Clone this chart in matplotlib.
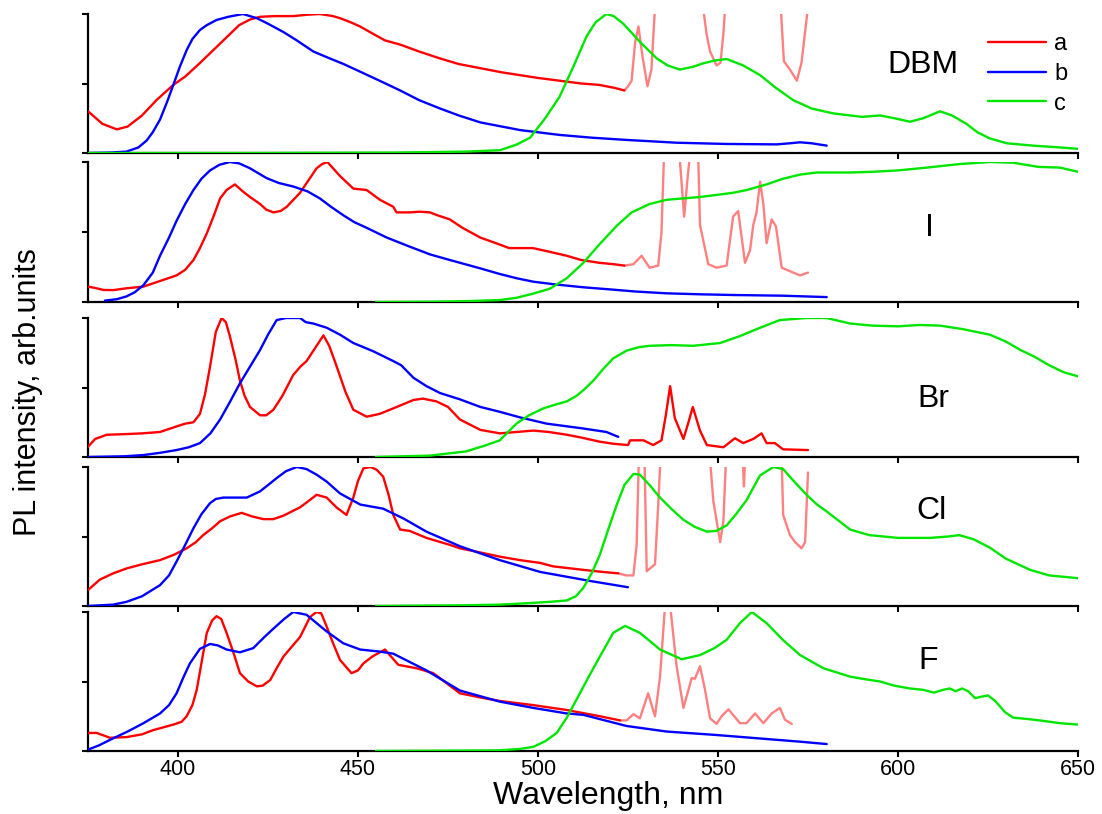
import numpy as np
import matplotlib
matplotlib.use("Agg")
import matplotlib.pyplot as plt

plt.rcParams['font.family'] = ['Liberation Sans', 'DejaVu Sans']

# ---- DBM ----
dbm_a_x = [375, 379, 383, 386, 390, 394, 398.7, 402, 406, 409, 412.6, 417, 420, 422.8, 427, 432, 436, 439.4, 443, 445,
           448, 450.6, 454, 457.5, 461.7, 467, 472.8, 478, 484, 490, 495, 500, 506, 512, 517, 521, 524]
dbm_a_y = [0.30, 0.21, 0.17, 0.19, 0.27, 0.38, 0.49, 0.55, 0.645, 0.72, 0.81, 0.92, 0.96, 0.98, 0.985, 0.985, 0.995, 1.0,
           0.985, 0.97, 0.94, 0.91, 0.86, 0.81, 0.78, 0.73, 0.68, 0.64, 0.61, 0.58, 0.56, 0.54, 0.52, 0.50, 0.49, 0.47, 0.45]
dbm_s_x = [524, 525, 526, 527, 527.9, 529, 530.4, 531.5, 532.5, 535, 540, 546, 546.8, 547.8, 549.6, 550.7, 551.5, 552,
           558, 567.5, 568.3, 570, 571.9, 573.2, 575]
dbm_s_y = [0.45, 0.48, 0.52, 0.80, 0.91, 0.70, 0.48, 0.60, 1.05, 3.0, 3.0, 1.02, 0.86, 0.73, 0.63, 0.65, 0.86, 1.05,
           3.0, 1.02, 0.66, 0.60, 0.52, 0.65, 1.05]
dbm_b_x = [375, 381, 385.7, 389, 391.3, 393, 395, 397, 398.7, 400.5, 402.4, 404, 406.1, 408, 410.7, 414, 418, 421.9, 425,
           429.3, 433, 437.6, 442.2, 446, 450.6, 456, 461.7, 467, 472.8, 478, 484, 490, 495, 506, 515, 524.6, 538.5,
           552.4, 566.3, 570, 572.8, 576, 580.2]
dbm_b_y = [0, 0.003, 0.01, 0.04, 0.09, 0.15, 0.24, 0.37, 0.49, 0.62, 0.74, 0.82, 0.885, 0.92, 0.957, 0.98, 1.0, 0.97,
           0.93, 0.87, 0.81, 0.73, 0.68, 0.64, 0.585, 0.52, 0.45, 0.38, 0.32, 0.27, 0.22, 0.19, 0.165, 0.13, 0.11, 0.094,
           0.074, 0.065, 0.062, 0.07, 0.077, 0.07, 0.053]
dbm_c_x = [375, 420, 460, 480, 489.4, 494, 497.8, 502, 506, 509.8, 513.5, 516, 519, 521, 523.7, 528.3, 533, 536, 539.4,
           543, 545.9, 549, 552.4, 557, 561.7, 566, 570.9, 576, 582, 586.7, 590, 595, 599, 603.3, 607, 611.7, 615, 619,
           622, 625.5, 630.2, 637.5, 645, 650]
dbm_c_y = [0, 0, 0.003, 0.01, 0.02, 0.06, 0.11, 0.25, 0.405, 0.62, 0.84, 0.94, 1.0, 0.985, 0.93, 0.80, 0.68, 0.63,
           0.60, 0.62, 0.645, 0.665, 0.676, 0.63, 0.56, 0.47, 0.38, 0.32, 0.285, 0.27, 0.26, 0.27, 0.25, 0.225, 0.25,
           0.30, 0.27, 0.21, 0.15, 0.105, 0.07, 0.053, 0.04, 0.03]

# ---- I ----
i_a_x = [375, 377, 379.3, 382, 385.7, 390.4, 395, 399.6, 402, 404.3, 406, 408, 410, 411.7, 413.5, 415.8, 418, 420,
         422.8, 424.5, 426.5, 428.5, 430.2, 433.9, 436, 438.5, 440, 441.5, 445, 448.7, 452.4, 456.1, 459.8, 460.7,
         464.4, 467, 470, 472, 475.5, 479, 484, 489.4, 492, 498.6, 503, 508, 512, 517, 521, 524]
i_a_y = [0.11, 0.10, 0.086, 0.085, 0.098, 0.11, 0.15, 0.19, 0.23, 0.30, 0.38, 0.49, 0.62, 0.74, 0.80, 0.84, 0.79,
         0.75, 0.70, 0.66, 0.64, 0.65, 0.68, 0.78, 0.86, 0.955, 0.985, 1.0, 0.90, 0.81, 0.80, 0.73, 0.68, 0.64, 0.64,
         0.645, 0.64, 0.62, 0.59, 0.53, 0.46, 0.41, 0.385, 0.385, 0.36, 0.33, 0.30, 0.28, 0.27, 0.26]
i_s_x = [524, 526.5, 528.8, 531, 533.4, 534.3, 535, 537, 539.3, 540.6, 541.6, 542.2, 543.5, 544.5, 545, 547.3, 549.6,
         552.4, 554.2, 555.6, 557.5, 558.9, 559.8, 560.7, 561.7, 562.6, 563.5, 564.9, 566.1, 567.7, 570, 572.8, 575]
i_s_y = [0.26, 0.27, 0.33, 0.245, 0.26, 0.50, 1.05, 3.0, 1.05, 0.61, 0.90, 1.05, 3.0, 1.05, 0.55, 0.27, 0.245, 0.26,
         0.61, 0.65, 0.28, 0.37, 0.55, 0.64, 0.86, 0.70, 0.42, 0.59, 0.54, 0.245, 0.22, 0.19, 0.21]
i_b_x = [379.7, 383, 385.7, 388, 390.4, 393, 395, 397.5, 399.6, 402, 404.3, 406.5, 408.9, 411.5, 414.4, 417, 420,
         424.6, 428, 432, 436, 439.4, 442.5, 445.9, 449, 452.4, 458, 464.4, 470, 475.5, 484, 489.4, 494, 498.7, 505,
         512.6, 520, 527, 535.7, 545, 554.2, 568, 580.2]
i_b_y = [0.01, 0.02, 0.04, 0.07, 0.12, 0.21, 0.33, 0.46, 0.58, 0.70, 0.80, 0.88, 0.94, 0.98, 1.0, 0.99, 0.955, 0.885,
         0.85, 0.825, 0.79, 0.74, 0.68, 0.62, 0.57, 0.53, 0.46, 0.395, 0.34, 0.30, 0.24, 0.20, 0.17, 0.145, 0.125,
         0.105, 0.09, 0.075, 0.062, 0.055, 0.05, 0.045, 0.035]
i_c_x = [455, 470, 480, 489.4, 494, 498.7, 503.3, 508, 512.6, 517, 521.9, 526, 531, 535.7, 545, 554.2, 558, 563.5,
         568, 572.8, 577.4, 586.7, 593, 600, 608, 617, 625.5, 632, 639, 645, 650]
i_c_y = [0, 0.002, 0.006, 0.014, 0.03, 0.06, 0.095, 0.17, 0.28, 0.41, 0.545, 0.64, 0.70, 0.73, 0.75, 0.78, 0.80, 0.84,
         0.88, 0.91, 0.925, 0.925, 0.93, 0.94, 0.96, 0.985, 1.0, 0.995, 0.965, 0.96, 0.93]

# ---- Br ----
br_a_x = [375, 377, 380.2, 385.7, 390, 395, 399.6, 402, 404.3, 406.1, 407.5, 408.9, 410.5, 412.1, 413.3, 414.4, 416,
          417.2, 418.5, 420, 422.8, 424.5, 426.5, 429, 432, 434, 435.7, 438, 440.4, 442, 444.1, 446.5, 448.7, 452.4,
          456, 459.8, 465.4, 468, 471.8, 475, 478.3, 484, 489.4, 494, 498.7, 503, 508, 512, 517.2, 521, 525, 525.6,
          529.3, 532, 534.3, 535.5, 536.7, 538, 540.4, 541.8, 543, 545, 546.9, 551.5, 554.7, 557, 559.8, 562.1, 563.5,
          565.8, 568.1, 575]
br_a_y = [0.074, 0.13, 0.16, 0.165, 0.17, 0.18, 0.22, 0.24, 0.25, 0.31, 0.45, 0.65, 0.90, 1.0, 0.97, 0.87, 0.70, 0.55,
          0.44, 0.36, 0.30, 0.30, 0.34, 0.44, 0.59, 0.65, 0.69, 0.78, 0.875, 0.80, 0.65, 0.47, 0.34, 0.29, 0.31, 0.35,
          0.41, 0.42, 0.40, 0.36, 0.27, 0.195, 0.17, 0.18, 0.19, 0.18, 0.16, 0.14, 0.11, 0.095, 0.086, 0.12, 0.12,
          0.086, 0.12, 0.30, 0.51, 0.28, 0.13, 0.25, 0.36, 0.19, 0.086, 0.07, 0.135, 0.10, 0.13, 0.17, 0.10, 0.10,
          0.055, 0.05]
br_b_x = [375, 385, 390.4, 395, 399.6, 403, 406.1, 409, 411.7, 414.5, 417.2, 420, 422.8, 425, 427.4, 430, 433.9, 435.5,
          437.6, 441.3, 445, 448.7, 454.3, 459.8, 462, 465.4, 469, 472.8, 478.3, 484, 489.4, 495, 502.4, 512.6, 519,
          522.3]
br_b_y = [0, 0.005, 0.014, 0.03, 0.05, 0.07, 0.10, 0.17, 0.27, 0.40, 0.53, 0.65, 0.77, 0.88, 0.985, 1.0, 1.0, 0.97,
          0.96, 0.93, 0.88, 0.82, 0.76, 0.69, 0.66, 0.57, 0.51, 0.46, 0.415, 0.36, 0.325, 0.285, 0.24, 0.205, 0.18,
          0.145]
br_c_x = [455, 470, 480, 485, 489.4, 494, 497.5, 501.5, 505.2, 508, 510.7, 513, 515.4, 518, 520.9, 524.6, 528, 531,
          537, 543.1, 550.6, 556.1, 561.7, 567.2, 574.6, 580.2, 586.7, 593, 600, 606, 611.7, 618, 625.5, 630, 634, 638,
          642, 646, 650]
br_c_y = [0, 0.01, 0.04, 0.08, 0.12, 0.24, 0.30, 0.35, 0.38, 0.40, 0.44, 0.49, 0.55, 0.63, 0.71, 0.765, 0.79, 0.80,
          0.805, 0.80, 0.82, 0.87, 0.93, 0.985, 1.0, 1.0, 0.96, 0.945, 0.94, 0.95, 0.945, 0.92, 0.88, 0.83, 0.77, 0.72,
          0.66, 0.61, 0.58]

# ---- Cl ----
cl_a_x = [375, 378.3, 382, 385.7, 390, 395, 399, 402.4, 405, 407, 409.5, 411.7, 414.5, 417.7, 420.5, 423.7, 426.5,
          429.3, 433.9, 436.5, 438.5, 441.3, 444, 446.8, 448.7, 450, 451.5, 453.5, 455.2, 457, 458.5, 459.8, 461.7,
          464.4, 469, 475.5, 478.3, 484, 489.4, 495, 500.6, 504.2, 512.6, 518, 522.3]
cl_a_y = [0.115, 0.19, 0.235, 0.27, 0.30, 0.33, 0.37, 0.415, 0.46, 0.51, 0.56, 0.61, 0.645, 0.67, 0.645, 0.625, 0.625,
          0.65, 0.71, 0.76, 0.80, 0.78, 0.71, 0.655, 0.78, 0.90, 0.99, 1.0, 0.98, 0.93, 0.80, 0.655, 0.55, 0.54, 0.49,
          0.44, 0.415, 0.385, 0.355, 0.33, 0.31, 0.285, 0.26, 0.245, 0.235]
cl_s_x = [522.3, 524.5, 526.5, 527.4, 528.0, 528.8, 529.6, 530.2, 532.5, 533.4, 534.0, 541, 547.8, 548.7, 550.6, 551.5,
          552.2, 555, 556.9, 557.2, 557.5, 562, 567.7, 568.1, 570, 571.4, 573.2, 574.2, 575]
cl_s_y = [0.235, 0.22, 0.22, 0.44, 1.05, 3.0, 1.05, 0.25, 0.30, 0.73, 1.05, 3.0, 1.05, 0.755, 0.46, 0.61, 1.05, 3.0,
          1.05, 0.86, 1.05, 3.0, 1.05, 0.655, 0.51, 0.46, 0.415, 0.46, 0.96]
cl_b_x = [375, 382, 385.7, 390, 395, 397.5, 399.6, 402, 404.3, 406.5, 408.9, 410.5, 412.6, 416, 419.1, 422.8, 425,
          427.4, 430, 433, 435.7, 438.5, 441.3, 445, 450.6, 457, 462.6, 469, 478.3, 489.4, 500.6, 514.5, 525]
cl_b_y = [0, 0.01, 0.03, 0.07, 0.15, 0.22, 0.32, 0.44, 0.56, 0.66, 0.74, 0.77, 0.78, 0.78, 0.78, 0.825, 0.87, 0.92,
          0.97, 1.0, 0.985, 0.945, 0.895, 0.81, 0.73, 0.70, 0.63, 0.535, 0.43, 0.33, 0.245, 0.18, 0.135]
cl_c_x = [455, 480, 489.4, 497, 503.3, 508, 510.5, 512.6, 515, 517.2, 519.5, 521.9, 524, 526.5, 528.3, 531, 533.9, 537,
          540.4, 543.5, 546.9, 549.5, 552.4, 555, 557.9, 560, 561.7, 565.4, 568.1, 571, 574.6, 577.5, 580.2, 586.7,
          592, 600, 608.9, 614, 617, 621, 625.5, 630, 636.7, 642, 650]
cl_c_y = [0, 0.005, 0.01, 0.02, 0.03, 0.04, 0.07, 0.13, 0.24, 0.37, 0.55, 0.73, 0.87, 0.95, 0.945, 0.87, 0.78, 0.70,
          0.62, 0.57, 0.535, 0.54, 0.58, 0.66, 0.76, 0.86, 0.94, 1.0, 0.985, 0.90, 0.80, 0.73, 0.68, 0.55, 0.51, 0.49,
          0.49, 0.50, 0.51, 0.48, 0.42, 0.34, 0.26, 0.22, 0.20]

# ---- F ----
f_a_x = [375, 377.4, 379, 381.1, 385.7, 390, 393.1, 398.7, 401, 402.4, 404, 405.2, 406.5, 408, 409.5, 410.7, 412,
         413.5, 415.5, 417.2, 419.5, 421.9, 423.5, 425.6, 427.5, 429.3, 433.9, 436.7, 438.5, 439.8, 441.3, 443, 445,
         448.2, 450, 451.5, 454, 457.5, 459.5, 461.2, 466.3, 470.9, 475, 478.3, 484, 489.4, 498.7, 508, 517.2, 522.8]
f_a_y = [0.13, 0.13, 0.115, 0.095, 0.10, 0.12, 0.15, 0.19, 0.21, 0.25, 0.33, 0.44, 0.63, 0.85, 0.94, 0.97, 0.95, 0.85,
         0.70, 0.56, 0.50, 0.465, 0.47, 0.51, 0.60, 0.68, 0.82, 0.965, 1.0, 0.99, 0.895, 0.78, 0.655, 0.56, 0.58, 0.63,
         0.68, 0.73, 0.67, 0.62, 0.595, 0.56, 0.48, 0.415, 0.385, 0.36, 0.33, 0.295, 0.25, 0.22]
f_s_x = [522.8, 524.6, 526.5, 528.3, 530.6, 532.5, 533.9, 535.3, 536, 536.7, 538.5, 540.4, 542.7, 543.6, 545, 546.4,
         547.8, 549.6, 551, 552.9, 554.5, 556.1, 557.9, 560.3, 562.6, 564.9, 567.2, 568.6, 570.5]
f_s_y = [0.22, 0.22, 0.265, 0.235, 0.415, 0.25, 0.535, 1.05, 3.0, 1.05, 0.61, 0.31, 0.525, 0.52, 0.61, 0.44, 0.235,
         0.195, 0.25, 0.30, 0.25, 0.20, 0.20, 0.27, 0.20, 0.27, 0.31, 0.225, 0.195]
f_b_x = [375, 378, 381.1, 386, 390.4, 395, 397.5, 399.6, 401.5, 403.3, 406.1, 408.9, 411, 413.5, 417.2, 420.9, 424,
         426.5, 429.5, 432, 435.7, 438.5, 441.3, 445.9, 450.6, 456.1, 459.8, 464.4, 469, 478.3, 489.4, 498.7, 508,
         512.6, 524.6, 535.7, 549.6, 561.7, 572.8, 580.2]
f_b_y = [0.01, 0.04, 0.08, 0.14, 0.20, 0.27, 0.33, 0.415, 0.53, 0.63, 0.735, 0.77, 0.76, 0.73, 0.71, 0.74, 0.82, 0.88,
         0.95, 1.0, 0.98, 0.92, 0.86, 0.775, 0.73, 0.715, 0.70, 0.64, 0.58, 0.435, 0.355, 0.31, 0.27, 0.26, 0.18,
         0.14, 0.115, 0.09, 0.067, 0.05]
f_c_x = [455, 480, 489.4, 495, 498.7, 502, 505.2, 508, 510.7, 514, 517.2, 520.9, 524.2, 528.3, 533.9, 539.9, 545, 549,
         552.4, 556.1, 559.4, 563.5, 568, 572.8, 579.3, 586.7, 590, 595, 599, 603.3, 607, 610, 612.5, 614.4, 616,
         617.8, 619.5, 621.4, 623, 625, 627, 629.7, 632, 636, 639.4, 645, 650]
f_c_y = [0, 0.003, 0.005, 0.015, 0.03, 0.07, 0.13, 0.24, 0.37, 0.53, 0.68, 0.85, 0.90, 0.85, 0.73, 0.66, 0.69, 0.74,
         0.80, 0.92, 1.0, 0.92, 0.80, 0.69, 0.595, 0.535, 0.52, 0.50, 0.47, 0.45, 0.44, 0.42, 0.44, 0.45, 0.43, 0.45,
         0.43, 0.38, 0.39, 0.40, 0.36, 0.28, 0.24, 0.23, 0.22, 0.20, 0.19]

panel_names = ['DBM', 'I', 'Br', 'Cl', 'F']
name_pos = [(607, 0.63), (608.6, 0.53), (609.7, 0.42), (609.4, 0.68), (608.3, 0.65)]

panels = [
    ((dbm_a_x, dbm_a_y), (dbm_s_x, dbm_s_y), (dbm_b_x, dbm_b_y), (dbm_c_x, dbm_c_y)),
    ((i_a_x, i_a_y), (i_s_x, i_s_y), (i_b_x, i_b_y), (i_c_x, i_c_y)),
    ((br_a_x, br_a_y), None, (br_b_x, br_b_y), (br_c_x, br_c_y)),
    ((cl_a_x, cl_a_y), (cl_s_x, cl_s_y), (cl_b_x, cl_b_y), (cl_c_x, cl_c_y)),
    ((f_a_x, f_a_y), (f_s_x, f_s_y), (f_b_x, f_b_y), (f_c_x, f_c_y)),
]

RED, BLUE, GREEN, SALMON = '#ff0000', '#0000ff', '#00e600', '#ff8080'

W, H = 1102, 814
fig = plt.figure(figsize=(W / 100, H / 100), dpi=100)

# panel extents in pixels (top, bottom)
extents = [(14, 153), (162, 302), (318, 457), (467, 606), (612, 751)]
left_px, right_px = 88, 1078

for k, ((top, bot), data) in enumerate(zip(extents, panels)):
    ax = fig.add_axes([left_px / W, 1 - bot / H, (right_px - left_px) / W, (bot - top) / H])
    red, sal, blue, green = data
    style = dict(lw=1.7, solid_joinstyle='round', solid_capstyle='round')
    if sal is not None:
        ax.plot(sal[0], sal[1], color=SALMON, zorder=2, **style)
    ax.plot(red[0], red[1], color=RED, label='a', zorder=3, **style)
    ax.plot(blue[0], blue[1], color=BLUE, label='b', zorder=3, **style)
    ax.plot(green[0], green[1], color=GREEN, label='c', zorder=3, **style)

    ax.set_xlim(375, 650)
    ax.set_ylim(0, 1.0)
    ax.set_xticks([400, 450, 500, 550, 600, 650])
    ax.set_yticks([0, 0.5, 1.0])
    ax.set_yticklabels([])
    for s in ['top', 'right']:
        ax.spines[s].set_visible(False)
    for s in ['left', 'bottom']:
        ax.spines[s].set_linewidth(1.6)
    ax.tick_params(direction='out', length=4, width=1.5, labelsize=15.5, pad=2)
    if k < 4:
        ax.tick_params(axis='x', labelbottom=False)

    nx, ny = name_pos[k]
    ax.text(nx, ny, panel_names[k], transform=ax.get_xaxis_transform(), fontsize=23,
            ha='center', va='center')

    if k == 0:
        ax.legend(loc='upper left', bbox_to_anchor=(0.909, 0.86), frameon=False, fontsize=17,
                  handlelength=2.45, handletextpad=0.35, labelspacing=0.32, borderpad=0, borderaxespad=0)

fig.text(608 / W, 0.0125, 'Wavelength, nm', fontsize=23, ha='center', va='baseline')
fig.text(28 / W, 1 - 392 / H, 'PL intensity, arb.units', fontsize=22, rotation=90, ha='center', va='center')

fig.savefig('out.png', dpi=100)
